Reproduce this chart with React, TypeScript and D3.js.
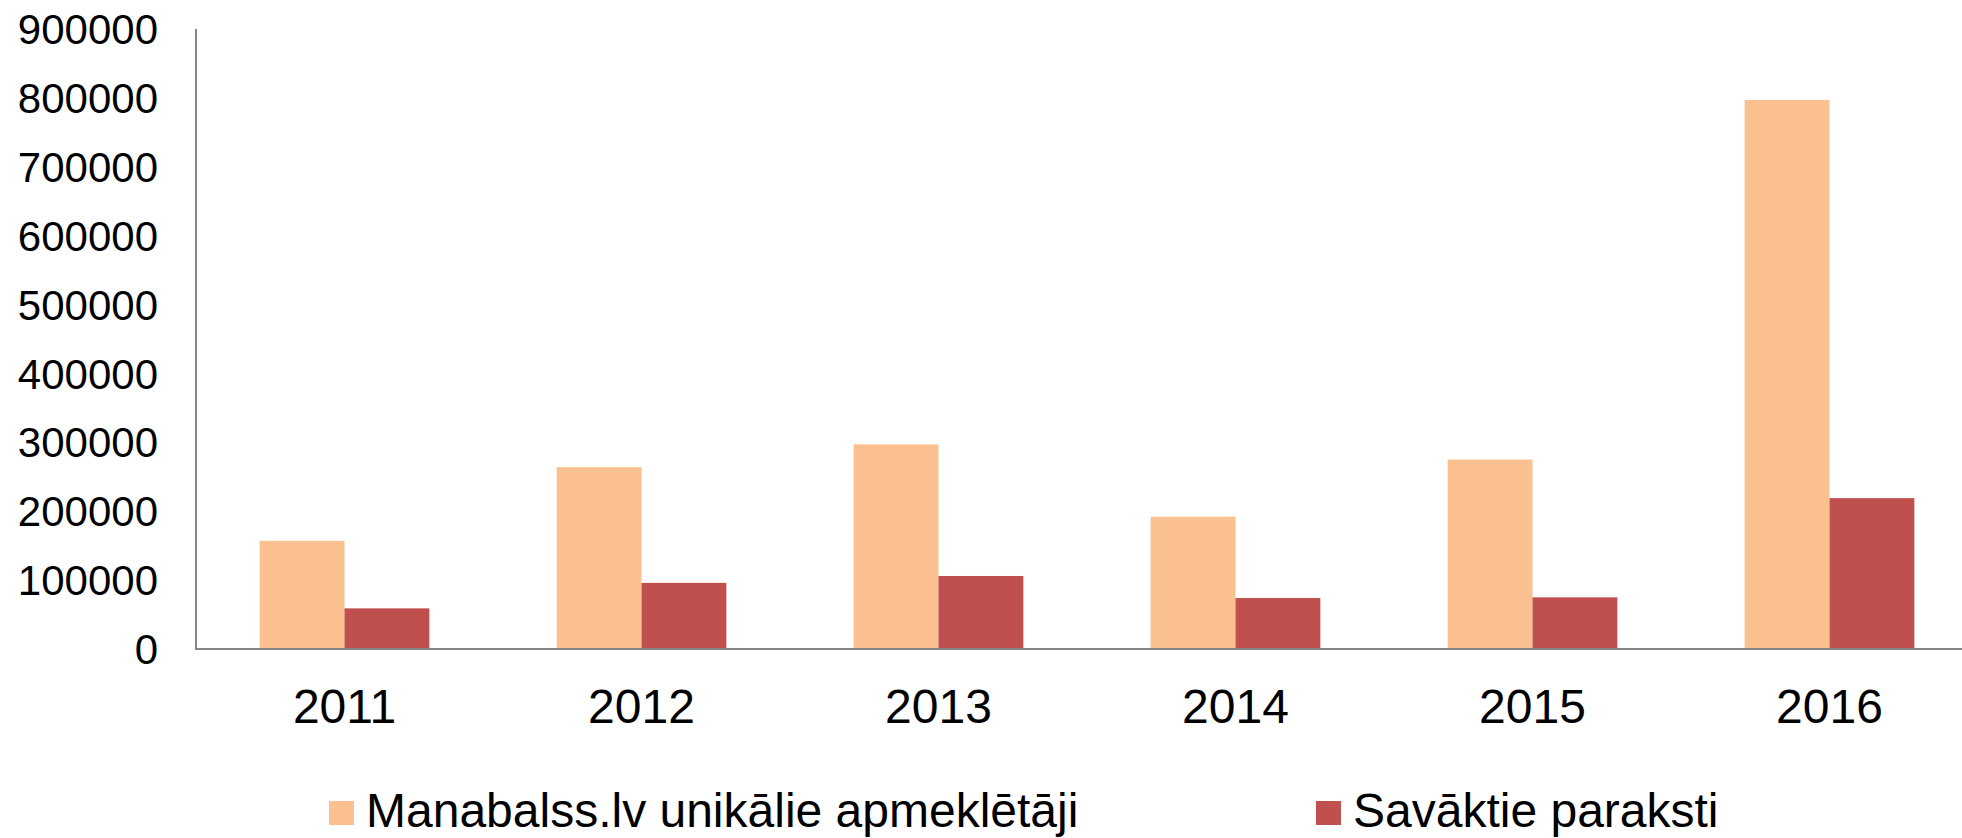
import React, { useEffect, useRef } from 'react';
import * as d3 from 'd3';

const YEARS = ['2011', '2012', '2013', '2014', '2015', '2016'];
const SERIES = ['Manabalss.lv unikālie apmeklētāji', 'Savāktie paraksti'];
const VISITORS = [157000, 264000, 297000, 192000, 275000, 797000];
const SIGNATURES = [59000, 96000, 106000, 74000, 75000, 219000];
const Y_TICKS = [0, 100000, 200000, 300000, 400000, 500000, 600000, 700000, 800000, 900000];
const COLORS = ['#FAC090', '#C0504D'];

export default function App() {
  const svgRef = useRef<SVGSVGElement | null>(null);

  useEffect(() => {
    const svgEl = svgRef.current;
    if (!svgEl) return;
    const svg = d3.select(svgEl);
    svg.selectAll('*').remove();

    const width = 1962;
    const height = 838;
    const left = 196;
    const top = 29;
    const bottom = 649;
    const font = '"Liberation Sans", Arial, sans-serif';

    svg.attr('viewBox', `0 0 ${width} ${height}`);

    const x0 = d3.scaleBand<string>().domain(YEARS).range([left, left + 6 * 297]).padding(0);
    const x1 = d3
      .scaleBand<number>()
      .domain([0, 1])
      .range([0, x0.bandwidth()])
      .paddingInner(0)
      .paddingOuter(0.75);
    const y = d3.scaleLinear().domain([0, 900000]).range([bottom, top]);

    const data = YEARS.map((yr, i) => ({ yr, values: [VISITORS[i], SIGNATURES[i]] }));

    // Bars
    const groups = svg
      .append('g')
      .selectAll('g')
      .data(data)
      .enter()
      .append('g')
      .attr('transform', d => `translate(${x0(d.yr)},0)`);

    groups
      .selectAll('rect')
      .data(d => d.values.map((v, s) => ({ v, s })))
      .enter()
      .append('rect')
      .attr('x', d => x1(d.s) as number)
      .attr('width', x1.bandwidth())
      .attr('y', d => y(d.v))
      .attr('height', d => y(0) - y(d.v))
      .attr('fill', d => COLORS[d.s]);

    // Axes lines
    svg
      .append('line')
      .attr('x1', left)
      .attr('x2', left)
      .attr('y1', top)
      .attr('y2', bottom)
      .attr('stroke', '#868686')
      .attr('stroke-width', 2);
    svg
      .append('line')
      .attr('x1', left - 1)
      .attr('x2', width)
      .attr('y1', bottom)
      .attr('y2', bottom)
      .attr('stroke', '#868686')
      .attr('stroke-width', 2);

    // Y tick labels
    svg
      .append('g')
      .selectAll('text')
      .data(Y_TICKS)
      .enter()
      .append('text')
      .attr('x', 158)
      .attr('y', d => y(d))
      .attr('dy', '0.36em')
      .attr('text-anchor', 'end')
      .attr('font-family', font)
      .attr('font-size', 42)
      .attr('fill', '#000')
      .text(d => String(d));

    // X labels
    svg
      .append('g')
      .selectAll('text')
      .data(YEARS)
      .enter()
      .append('text')
      .attr('x', d => (x0(d) as number) + x0.bandwidth() / 2)
      .attr('y', 723)
      .attr('text-anchor', 'middle')
      .attr('font-family', font)
      .attr('font-size', 48)
      .attr('fill', '#000')
      .text(d => d);

    // Legend
    const legendX = [329, 1316];
    const legend = svg
      .append('g')
      .selectAll('g')
      .data(SERIES)
      .enter()
      .append('g')
      .attr('transform', (_, i) => `translate(${legendX[i]},0)`);
    legend
      .append('rect')
      .attr('x', 0)
      .attr('y', 801)
      .attr('width', 25)
      .attr('height', 24)
      .attr('fill', (_, i) => COLORS[i]);
    legend
      .append('text')
      .attr('x', 37)
      .attr('y', 827)
      .attr('font-family', font)
      .attr('font-size', 48)
      .attr('fill', '#000')
      .text(d => d);
  }, []);

  return (
    <div style={{ position: 'absolute', left: 0, top: 0, width: 1962, height: 838, background: '#fff' }}>
      <svg ref={svgRef} width={1962} height={838} style={{ display: 'block' }} />
    </div>
  );
}
